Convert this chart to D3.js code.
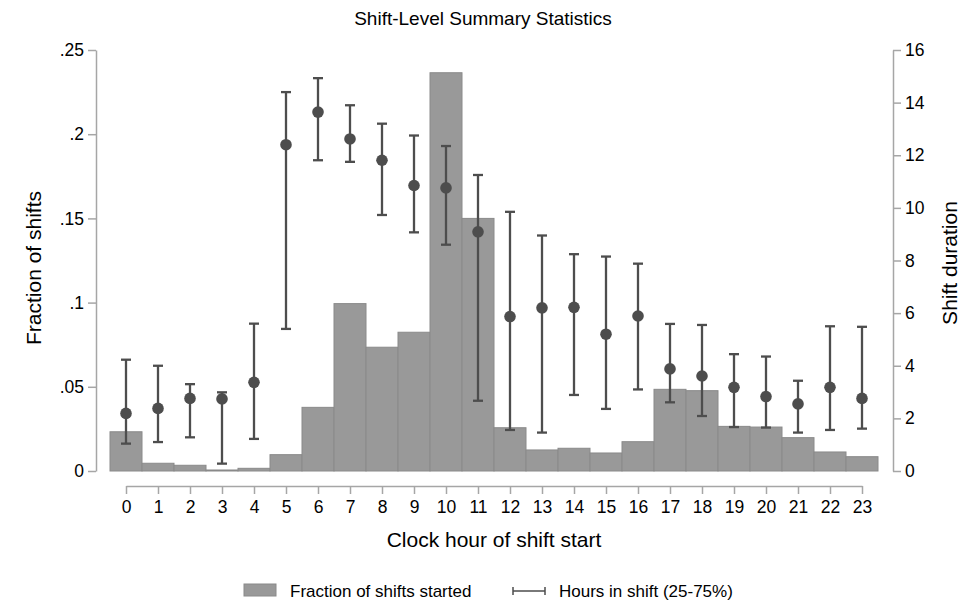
<!DOCTYPE html>
<html>
<head>
<meta charset="utf-8">
<script src="https://cdn.jsdelivr.net/npm/d3@7/dist/d3.min.js"></script>
<style>
  html, body { margin: 0; padding: 0; background: #fff; }
  svg text { font-family: "Liberation Sans", Arial, sans-serif; fill: #000; }
</style>
</head>
<body>
<svg id="chart" width="963" height="600"></svg>
<script>
const hours = [0,1,2,3,4,5,6,7,8,9,10,11,12,13,14,15,16,17,18,19,20,21,22,23];
const fractionStarted = [0.0233,0.0046,0.0034,0.0006,0.0016,0.0097,0.0378,0.0994,0.0735,0.0824,0.2365,0.1500,
                         0.0257,0.0125,0.0135,0.0107,0.0174,0.0485,0.0477,0.0265,0.0261,0.0198,0.0113,0.0085];
const durP25 =    [1.04,1.10,1.28,0.28,1.22,5.40,11.81,11.75,9.73,9.07,8.60,2.67,
                   1.56,1.46,2.89,2.36,3.10,2.61,2.09,1.67,1.65,1.46,1.56,1.61];
const durMedian = [2.19,2.38,2.76,2.74,3.37,12.40,13.64,12.62,11.81,10.85,10.76,9.09,
                   5.87,6.20,6.22,5.20,5.89,3.88,3.61,3.18,2.83,2.55,3.18,2.76];
const durP75 =    [4.23,4.00,3.30,2.99,5.60,14.40,14.93,13.90,13.20,12.75,12.35,11.25,
                   9.85,8.95,8.24,8.15,7.88,5.59,5.55,4.44,4.35,3.43,5.50,5.48];
const leftTicks = [0,0.05,0.1,0.15,0.2,0.25];
const rightTicks = [0,2,4,6,8,10,12,14,16];

const svg = d3.select("#chart");
const axisColor = "#a6a6a6";
const barFill = "#999999", barStroke = "#8a8a8a";
const markColor = "#4d4d4d";

const x = d3.scaleLinear().domain([0,23]).range([126,862]);
const bw = x(1) - x(0);
const yL = d3.scaleLinear().domain([0,0.25]).range([471,50]);
const yR = d3.scaleLinear().domain([0,16]).range([471,50]);

// Title
svg.append("text").attr("x", 483).attr("y", 25).attr("text-anchor","middle")
  .style("font-size","19px").text("Shift-Level Summary Statistics");

// Bars
svg.append("g").selectAll("rect").data(hours).join("rect")
  .attr("x", d => x(d) - bw/2)
  .attr("y", (d,i) => yL(fractionStarted[i]))
  .attr("width", bw)
  .attr("height", (d,i) => yL(0) - yL(fractionStarted[i]))
  .attr("fill", barFill).attr("stroke", barStroke).attr("stroke-width", 1);

// Error bars
const eb = svg.append("g").attr("stroke", markColor).attr("stroke-width", 2.3);
eb.selectAll("line.v").data(hours).join("line").attr("class","v")
  .attr("x1", d => x(d)).attr("x2", d => x(d))
  .attr("y1", (d,i) => yR(durP25[i])).attr("y2", (d,i) => yR(durP75[i]));
eb.selectAll("line.t").data(hours).join("line").attr("class","t")
  .attr("x1", d => x(d)-5).attr("x2", d => x(d)+5)
  .attr("y1", (d,i) => yR(durP75[i])).attr("y2", (d,i) => yR(durP75[i]));
eb.selectAll("line.b").data(hours).join("line").attr("class","b")
  .attr("x1", d => x(d)-5).attr("x2", d => x(d)+5)
  .attr("y1", (d,i) => yR(durP25[i])).attr("y2", (d,i) => yR(durP25[i]));
svg.append("g").selectAll("circle").data(hours).join("circle")
  .attr("cx", d => x(d)).attr("cy", (d,i) => yR(durMedian[i]))
  .attr("r", 5.8).attr("fill", markColor);

// Axes
function styleAxis(g) {
  g.selectAll("path.domain").attr("stroke", axisColor).attr("stroke-width", 1.5);
  g.selectAll(".tick line").attr("stroke", axisColor).attr("stroke-width", 1.5);
  g.selectAll(".tick text").style("font-size","17.5px").attr("fill","#000")
    .style("font-family",'"Liberation Sans", Arial, sans-serif');
}
const fmtL = d => d === 0 ? "0" : d3.format(".2~f")(d).replace(/^0/, "");
svg.append("g").attr("transform","translate(96,0)")
  .call(d3.axisLeft(yL).tickValues(leftTicks).tickFormat(fmtL).tickSize(8).tickSizeOuter(0).tickPadding(4))
  .call(styleAxis);
svg.append("g").attr("transform","translate(893,0)")
  .call(d3.axisRight(yR).tickValues(rightTicks).tickFormat(d3.format("d")).tickSize(8).tickSizeOuter(0).tickPadding(4))
  .call(styleAxis);
svg.append("g").attr("transform","translate(0,486)")
  .call(d3.axisBottom(x).tickValues(hours).tickFormat(d3.format("d")).tickSize(8).tickSizeOuter(0).tickPadding(7))
  .call(styleAxis);

// Axis titles
svg.append("text").attr("transform","translate(41,268) rotate(-90)").attr("text-anchor","middle")
  .style("font-size","21px").text("Fraction of shifts");
svg.append("text").attr("transform","translate(957,263) rotate(-90)").attr("text-anchor","middle")
  .style("font-size","21px").text("Shift duration");
svg.append("text").attr("x", 494).attr("y", 547).attr("text-anchor","middle")
  .style("font-size","21px").text("Clock hour of shift start");

// Legend
const lg = svg.append("g");
lg.append("rect").attr("x",244).attr("y",584).attr("width",32).attr("height",12)
  .attr("fill",barFill).attr("stroke",barStroke);
lg.append("text").attr("x",290).attr("y",597).style("font-size","17px").text("Fraction of shifts started");
lg.append("line").attr("x1",513).attr("x2",545).attr("y1",591).attr("y2",591).attr("stroke",markColor).attr("stroke-width",1.5);
lg.append("line").attr("x1",513).attr("x2",513).attr("y1",587).attr("y2",595).attr("stroke",markColor).attr("stroke-width",1.5);
lg.append("line").attr("x1",545).attr("x2",545).attr("y1",587).attr("y2",595).attr("stroke",markColor).attr("stroke-width",1.5);
lg.append("text").attr("x",559).attr("y",597).style("font-size","17px").text("Hours in shift (25-75%)");
</script>
</body>
</html>
